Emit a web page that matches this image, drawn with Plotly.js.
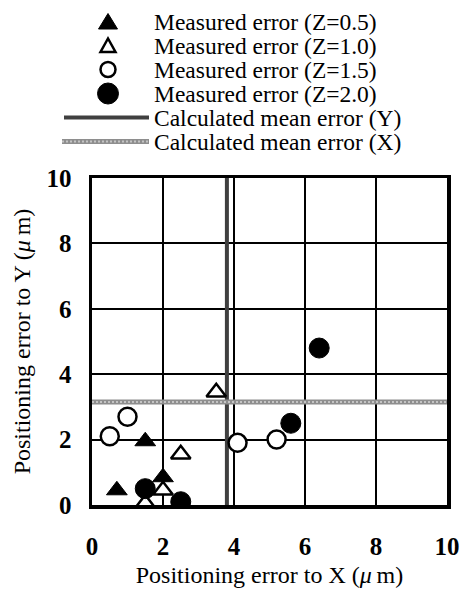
<!DOCTYPE html>
<html><head><meta charset="utf-8">
<script src="https://cdn.plot.ly/plotly-3.0.1.min.js"></script>
<style>html,body{margin:0;padding:0;background:#fff}#chart{width:460px;height:593px}</style>
</head><body><div id="chart"></div>
<script>
// ---- data ----
const z05X = [0.7, 1.5, 2.0];
const z05Y = [0.45, 1.95, 0.85];
const z10X = [3.5, 2.5, 2.0, 1.5];
const z10Y = [3.45, 1.55, 0.45, 0.05];
const z15X = [0.5, 1.0, 4.1, 5.2];
const z15Y = [2.1, 2.7, 1.9, 2.0];
const z20X = [6.4, 5.6, 1.5, 2.5];
const z20Y = [4.8, 2.5, 0.5, 0.1];
const meanLineVertical = 3.8;    // solid dark line
const meanLineHorizontal = 3.15; // gray textured line
const axisRange = [0, 10];
const tickVals = [0, 2, 4, 6, 8, 10];
const seriesNames = ['Measured error (Z=0.5)', 'Measured error (Z=1.0)', 'Measured error (Z=1.5)', 'Measured error (Z=2.0)', 'Calculated mean error (Y)', 'Calculated mean error (X)'];
const xTitle = 'Positioning error to X (<i>\u03bc</i>\u2009m)';
const yTitle = 'Positioning error to Y (<i>\u03bc</i>\u2009m)';

// ---- layout helpers ----
const W = 460, H = 593;
const M = {l: 92, r: 13, t: 178, b: 88, pad: 0};
const PW = W - M.l - M.r, PH = H - M.t - M.b;
const px = x => (x - M.l) / PW;
const py = y => (H - M.b - y) / PH;
const FONT = 'Liberation Serif, Times New Roman, serif';
const DARK = '#404040', GRAY = '#8e8e8e', GRAY_LIGHT = '#c4c4c4';

const traces = [
  {x: [meanLineVertical, meanLineVertical], y: axisRange, mode: 'lines', name: seriesNames[4], line: {color: DARK, width: 4}},
  {x: axisRange, y: [meanLineHorizontal, meanLineHorizontal], mode: 'lines', name: seriesNames[5], line: {color: GRAY, width: 5}},
  {x: axisRange, y: [meanLineHorizontal, meanLineHorizontal], mode: 'lines', name: seriesNames[5], line: {color: GRAY_LIGHT, width: 2, dash: '2px,2px'}},
  {x: z05X, y: z05Y, mode: 'markers', name: seriesNames[0], marker: {symbol: 'triangle-up', size: 18, color: '#000', line: {color: '#000', width: 1}}},
  {x: z10X, y: z10Y, mode: 'markers', name: seriesNames[1], marker: {symbol: 'triangle-up', size: 17, color: '#fff', line: {color: '#000', width: 2.5}}},
  {x: z15X, y: z15Y, mode: 'markers', name: seriesNames[2], marker: {symbol: 'circle', size: 18, color: '#fff', line: {color: '#000', width: 2.5}}},
  {x: z20X, y: z20Y, mode: 'markers', name: seriesNames[3], marker: {symbol: 'circle', size: 20, color: '#000', line: {color: '#000', width: 1}}}
];

// custom legend
const rowY = [21.5, 45.5, 69.5, 93.5, 117.5, 141.5];
const symX = 108, textX = 153;
const shapes = [];
const annotations = [];
const pix = {type: 'path', xref: 'paper', yref: 'paper', xsizemode: 'pixel', ysizemode: 'pixel'};
shapes.push(Object.assign({}, pix, {xanchor: px(symX), yanchor: py(rowY[0]), path: 'M-9.5,-7.5L9.5,-7.5L0,8Z', fillcolor: '#000', line: {color: '#000', width: 1}}));
shapes.push(Object.assign({}, pix, {xanchor: px(symX), yanchor: py(rowY[1]), path: 'M-7.5,-6.5L7.5,-6.5L0,7Z', fillcolor: '#fff', line: {color: '#000', width: 2.5}}));
shapes.push(Object.assign({}, pix, {type: 'circle', xanchor: px(symX), yanchor: py(rowY[2]), x0: -7.5, x1: 7.5, y0: -7.5, y1: 7.5, fillcolor: '#fff', line: {color: '#000', width: 2.5}}));
shapes.push(Object.assign({}, pix, {type: 'circle', xanchor: px(symX), yanchor: py(rowY[3]), x0: -10.5, x1: 10.5, y0: -10.5, y1: 10.5, fillcolor: '#000', line: {color: '#000', width: 1}}));
shapes.push({type: 'line', xref: 'paper', yref: 'paper', x0: px(64), x1: px(149), y0: py(rowY[4]), y1: py(rowY[4]), line: {color: DARK, width: 4}});
shapes.push({type: 'line', xref: 'paper', yref: 'paper', x0: px(62), x1: px(149), y0: py(rowY[5]), y1: py(rowY[5]), line: {color: GRAY, width: 5}});
shapes.push({type: 'line', xref: 'paper', yref: 'paper', x0: px(62), x1: px(149), y0: py(rowY[5]), y1: py(rowY[5]), line: {color: GRAY_LIGHT, width: 2, dash: '2px,2px'}});
seriesNames.forEach((n, i) => {
  annotations.push({text: n, xref: 'paper', yref: 'paper', x: px(textX), y: py(rowY[i]), xanchor: 'left', yanchor: 'middle', showarrow: false, borderpad: 0, font: {family: FONT, size: 23.5, color: '#000'}});
});

const axisCommon = {
  range: axisRange, tickvals: tickVals, showgrid: true, gridcolor: '#000', gridwidth: 2,
  zeroline: false, showline: true, linecolor: '#000', linewidth: 3.5, mirror: true,
  ticks: 'outside', tickcolor: 'rgba(0,0,0,0)', fixedrange: true,
  tickfont: {family: FONT, size: 25, color: '#000', weight: 'bold'}
};

const layout = {
  width: W, height: H, margin: M, paper_bgcolor: '#fff', plot_bgcolor: '#fff',
  showlegend: false, font: {family: FONT, color: '#000'},
  xaxis: Object.assign({}, axisCommon, {ticklen: 16, title: {text: xTitle, font: {family: FONT, size: 24, color: '#000'}, standoff: 8}}),
  yaxis: Object.assign({}, axisCommon, {ticklen: 12, title: {text: yTitle, font: {family: FONT, size: 24, color: '#000'}, standoff: 10}}),
  shapes: shapes, annotations: annotations
};

Plotly.newPlot('chart', traces, layout, {displayModeBar: false, staticPlot: true});
</script>
</body></html>
